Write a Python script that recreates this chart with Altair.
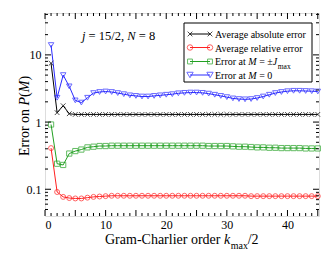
import altair as alt
import pandas as pd

# ---------------- data ----------------
k = list(range(1, 46))
abs_err = [7.5, 1.38, 1.75, 1.33, 1.3, 1.3, 1.3, 1.3, 1.3, 1.3,
           1.3, 1.3, 1.3, 1.3, 1.3, 1.3, 1.3, 1.3, 1.3, 1.3,
           1.3, 1.3, 1.3, 1.3, 1.3, 1.3, 1.3, 1.3, 1.3, 1.3,
           1.3, 1.3, 1.3, 1.3, 1.3, 1.3, 1.3, 1.3, 1.3, 1.3,
           1.3, 1.3, 1.3, 1.3, 1.3]
rel_err = [0.41, 0.091, 0.077, 0.074, 0.073, 0.073, 0.075, 0.077, 0.078, 0.079,
           0.08, 0.08, 0.08, 0.08, 0.08, 0.08, 0.08, 0.08, 0.08, 0.08,
           0.08, 0.08, 0.08, 0.08, 0.08, 0.08, 0.08, 0.08, 0.08, 0.08,
           0.08, 0.08, 0.08, 0.079, 0.079, 0.079, 0.079, 0.079, 0.079, 0.079,
           0.079, 0.079, 0.079, 0.079, 0.079]
edge_err = [0.92, 0.24, 0.23, 0.34, 0.37, 0.39, 0.42, 0.43, 0.44, 0.44,
            0.445, 0.445, 0.445, 0.445, 0.445, 0.445, 0.445, 0.445, 0.445, 0.445,
            0.445, 0.445, 0.445, 0.445, 0.445, 0.445, 0.44, 0.44, 0.44, 0.44,
            0.435, 0.43, 0.43, 0.425, 0.42, 0.42, 0.415, 0.415, 0.41, 0.41,
            0.41, 0.41, 0.405, 0.405, 0.405]
zero_err = [14, 2.3, 5.0, 3.4, 2.1, 1.95, 2.3, 2.7, 2.8, 2.85,
            2.8, 2.7, 2.6, 2.5, 2.45, 2.4, 2.4, 2.45, 2.5, 2.55,
            2.6, 2.68, 2.72, 2.75, 2.75, 2.72, 2.65, 2.55, 2.45, 2.35,
            2.25, 2.2, 2.18, 2.2, 2.28, 2.4, 2.55, 2.7, 2.8, 2.88,
            2.92, 2.92, 2.9, 2.88, 2.85]

series = ["Average absolute error", "Average relative error",
          "Error at M = ±Jmax", "Error at M = 0"]
colors = ["#000000", "#ff2020", "#22a022", "#2a2aff"]
shapes = ["M-1,-1L1,1M-1,1L1,-1", "circle", "square", "triangle-down"]
sizes = [22, 30, 24, 40]

x_major = [0, 5, 10, 15, 20, 25, 30, 35, 40, 45]
x_minor = [v for v in range(1, 46) if v % 5 != 0]
x_labels = [0, 10, 20, 30, 40]
y_major = [0.1, 1, 10]
y_minor = [0.05, 0.06, 0.07, 0.08, 0.09, 0.2, 0.3, 0.4, 0.5, 0.6, 0.7, 0.8, 0.9,
           2, 3, 4, 5, 6, 7, 8, 9, 20, 30, 40]

rows = []
for name, vals in zip(series, [abs_err, rel_err, edge_err, zero_err]):
    for kk, v in zip(k, vals):
        rows.append({"k": kk, "value": v, "series": name})
df = pd.DataFrame(rows)

W, H = 274, 203
FONT = "Liberation Serif"
xs = alt.Scale(domain=[0, 45.2], nice=False, zero=False)
ys = alt.Scale(type="log", domain=[0.04, 42], nice=False)
cs = alt.Scale(domain=series, range=colors)
ss = alt.Scale(domain=series, range=shapes)
zs = alt.Scale(domain=series, range=sizes)

x_axis = alt.Axis(values=x_labels, ticks=False, domain=False, grid=False,
                  title=None, labelFont=FONT, labelFontSize=12,
                  labelColor="black", labelPadding=3)
y_axis = alt.Axis(values=y_major, ticks=False, domain=False, grid=False,
                  title=None, labelFont=FONT, labelFontSize=12,
                  labelColor="black", labelPadding=4,
                  labelExpr="datum.value >= 1 ? format(datum.value, 'd') : format(datum.value, '.1f')")

base = alt.Chart(df)
lines = base.mark_line(strokeWidth=1).encode(
    x=alt.X("k:Q", scale=xs, axis=x_axis),
    y=alt.Y("value:Q", scale=ys, axis=y_axis),
    color=alt.Color("series:N", scale=cs, legend=None),
    detail="series:N",
)
points = base.mark_point(filled=False, strokeWidth=1).encode(
    x=alt.X("k:Q", scale=xs, axis=x_axis),
    y=alt.Y("value:Q", scale=ys, axis=y_axis),
    color=alt.Color("series:N", scale=cs, legend=None),
    shape=alt.Shape("series:N", scale=ss, legend=None),
    size=alt.Size("series:N", scale=zs, legend=None),
)

# inward ticks on all four sides
def xticks(vals, ln):
    d = alt.Chart(pd.DataFrame({"k": vals}))
    bot = d.mark_rule(color="black", strokeWidth=1).encode(
        x=alt.X("k:Q", scale=xs, axis=x_axis), y=alt.value(H), y2=alt.value(H - ln))
    top = d.mark_rule(color="black", strokeWidth=1).encode(
        x=alt.X("k:Q", scale=xs, axis=x_axis), y=alt.value(0), y2=alt.value(ln))
    return [bot, top]

def yticks(vals, ln):
    d = alt.Chart(pd.DataFrame({"value": vals}))
    left = d.mark_rule(color="black", strokeWidth=1).encode(
        y=alt.Y("value:Q", scale=ys, axis=y_axis), x=alt.value(0), x2=alt.value(ln))
    right = d.mark_rule(color="black", strokeWidth=1).encode(
        y=alt.Y("value:Q", scale=ys, axis=y_axis), x=alt.value(W), x2=alt.value(W - ln))
    return [left, right]

ticks = xticks(x_major, 6) + xticks(x_minor, 3) + yticks(y_major, 6) + yticks(y_minor, 3)

dummy = pd.DataFrame({"a": [0]})

def txt(s, x, y, size=12, italic=False, angle=0):
    kw = dict(text=s, font=FONT, fontSize=size, align="left", baseline="alphabetic",
              color="black")
    if italic:
        kw["fontStyle"] = "italic"
    if angle:
        kw["angle"] = angle
    return alt.Chart(dummy).mark_text(**kw).encode(x=alt.value(x), y=alt.value(y))

texts = []
# annotation j = 15/2, N = 8
fs = 12.5
u = fs / 1000.0
ax0, ay = 37, 27
texts.append(txt("j", ax0, ay, fs, True))
x1 = ax0 + (278 + 250) * u
texts.append(txt("= 15/2,", x1, ay, fs))
x2 = x1 + (564 + 250 + 500 + 500 + 278 + 500 + 250 + 250) * u
texts.append(txt("N", x2, ay, fs, True))
texts.append(txt("= 8", x2 + (667 + 250) * u, ay, fs))

# x title
tx, ty = 60, 231
texts.append(txt("Gram-Charlier order", tx, ty, 14))
kx = tx + 8497 * 0.014
texts.append(txt("k", kx, ty, 14, True))
mx = kx + 444 * 0.014 + 0.5
texts.append(txt("max", mx, ty + 5, 10))
texts.append(txt("/2", mx + 17.0, ty, 14))

# y title (rotated)
yx, yb = -16, 143
texts.append(txt("Error on", yx, yb, 14, angle=270))
p1 = yb - 3610 * 0.014
texts.append(txt("P", yx, p1, 14, True, 270))
p2 = p1 - 611 * 0.014
texts.append(txt("(", yx, p2, 14, angle=270))
p3 = p2 - 333 * 0.014
texts.append(txt("M", yx, p3, 14, True, 270))
p4 = p3 - 833 * 0.014
texts.append(txt(")", yx, p4, 14, angle=270))

# legend
box = alt.Chart(dummy).mark_rect(fill="white", stroke="black", strokeWidth=1).encode(
    x=alt.value(139), x2=alt.value(267), y=alt.value(10), y2=alt.value(69))
legend_layers = [box]
sym_y = [21, 34.5, 48.5, 62]
base_y = [25, 38.5, 52, 65.5]
lx0, lx1, ltx = 145, 165, 170
for i, name in enumerate(series):
    legend_layers.append(alt.Chart(dummy).mark_rule(color=colors[i], strokeWidth=1).encode(
        x=alt.value(lx0), x2=alt.value(lx1), y=alt.value(sym_y[i])))
    pts = alt.Chart(pd.DataFrame({"p": [lx0, lx1]})).mark_point(
        filled=False, strokeWidth=1, color=colors[i], shape=shapes[i], size=sizes[i]).encode(
        x=alt.X("p:Q", scale=None, axis=None), y=alt.value(sym_y[i]))
    legend_layers.append(pts)
fl = 10
ul = fl / 1000.0
legend_layers.append(txt(series[0], ltx, base_y[0], fl))
legend_layers.append(txt(series[1], ltx, base_y[1], fl))
# Error at M = ±Jmax
x_a = ltx
legend_layers.append(txt("Error at", x_a, base_y[2], fl))
x_b = x_a + 3332 * ul
legend_layers.append(txt("M", x_b, base_y[2], fl, True))
x_c = x_b + (833 + 250) * ul
legend_layers.append(txt("= ±", x_c, base_y[2], fl))
x_d = x_c + (564 + 250 + 549) * ul
legend_layers.append(txt("J", x_d, base_y[2], fl, True))
legend_layers.append(txt("max", x_d + 444 * ul + 0.5, base_y[2] + 4, 7.5))
# Error at M = 0
legend_layers.append(txt("Error at", x_a, base_y[3], fl))
legend_layers.append(txt("M", x_b, base_y[3], fl, True))
legend_layers.append(txt("= 0", x_c, base_y[3], fl))

chart = alt.layer(lines, points, *ticks, *texts, *legend_layers).properties(
    width=W, height=H,
    autosize=alt.AutoSizeParams(type="none"),
    padding={"left": 37, "top": 5, "right": 3, "bottom": 36},
).configure_view(stroke="black", strokeWidth=1).configure(background="white")

chart.save("out.html", embed_options={"renderer": "svg", "actions": False})
